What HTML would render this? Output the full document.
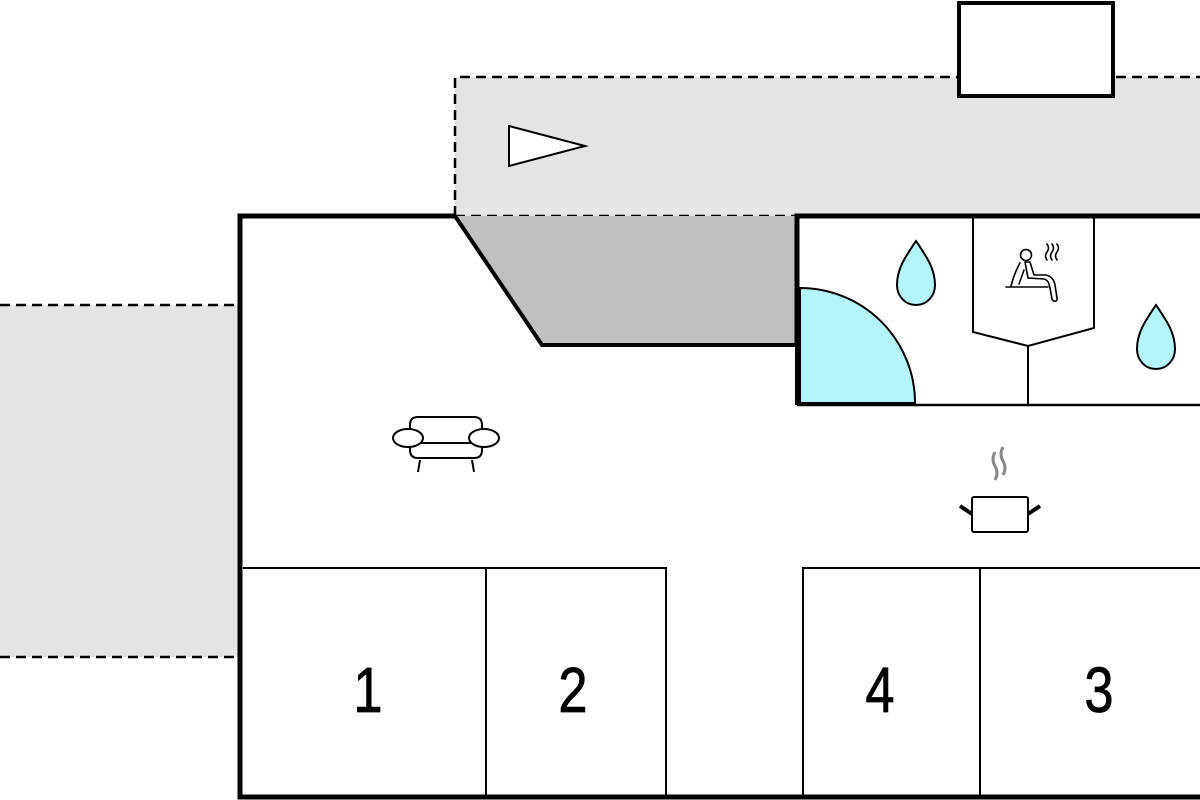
<!DOCTYPE html>
<html><head><meta charset="utf-8"><style>
html,body{margin:0;padding:0;background:#fff;width:1200px;height:800px;overflow:hidden}
svg{display:block}
text{font-family:"Liberation Sans",sans-serif}
</style></head><body>
<svg width="1200" height="800" viewBox="0 0 1200 800" xmlns="http://www.w3.org/2000/svg">
<rect x="0" y="305" width="240" height="352" fill="#e5e5e5"/>
<line x1="0" y1="305" x2="240" y2="305" stroke="#000" stroke-width="2.5" stroke-dasharray="10,6"/>
<line x1="0" y1="657" x2="240" y2="657" stroke="#000" stroke-width="2.5" stroke-dasharray="10,6"/>
<rect x="455" y="77" width="745" height="139" fill="#e5e5e5"/>
<path d="M455,216 L455,77 L1200,77" fill="none" stroke="#000" stroke-width="2.5" stroke-dasharray="10,6"/>
<line x1="455" y1="216" x2="797" y2="216" stroke="#000" stroke-width="2.5" stroke-dasharray="10,6"/>
<rect x="959" y="3" width="154" height="93" fill="#fff" stroke="#000" stroke-width="4"/>
<polygon points="509,126 509,166 585,146" fill="#fff" stroke="#000" stroke-width="2"/>
<polygon points="455,216 797,216 797,345 542,345" fill="#c0c0c0"/>
<polyline points="455,216 542,345 797,345" fill="none" stroke="#000" stroke-width="4"/>
<polyline points="455,216 240,216 240,797 1200,797" fill="none" stroke="#000" stroke-width="5"/>
<path d="M800,403 L800,288 A115,115 0 0 1 915,403 Z" fill="#b3f5fb" stroke="#000" stroke-width="2"/>
<polyline points="797,345 797,216 1200,216" fill="none" stroke="#000" stroke-width="5"/>
<line x1="797" y1="345" x2="797" y2="405" stroke="#000" stroke-width="4"/>
<line x1="797" y1="405" x2="1200" y2="405" stroke="#000" stroke-width="2.5"/>
<polyline points="973,218 973,332 1028,346 1094,328 1094,218" fill="none" stroke="#000" stroke-width="2"/>
<line x1="1028" y1="346" x2="1028" y2="405" stroke="#000" stroke-width="2"/>
<path d="M916,241 C906,256 897,268 897,285 C897,296 905,305 916,305 C927,305 935,296 935,285 C935,268 926,256 916,241 Z" fill="#b3f5fb" stroke="#000" stroke-width="2"/>
<path d="M1156,305 C1146,320 1137,332 1137,349 C1137,360 1145,369 1156,369 C1167,369 1175,360 1175,349 C1175,332 1166,320 1156,305 Z" fill="#b3f5fb" stroke="#000" stroke-width="2"/>
<g fill="none" stroke="#000" stroke-width="1.6" stroke-linejoin="round" stroke-linecap="round">
<circle cx="1026" cy="255" r="5.5"/>
<path d="M1020,263 C1016,270 1013,278 1011,286 M1025,262 L1028,278 L1044,279 C1048,280 1049,283 1050,288 L1052,299 C1053,302 1058,302 1057,298 L1055,285 C1054,279 1050,276 1046,275 L1034,275 L1030,262 Z"/>
<path d="M1024,270 L1019,284"/>
<line x1="1006" y1="287" x2="1048" y2="287"/>
<path d="M1047,244 q3,4 0,8 q-3,4 0,8 M1052,244 q3,4 0,8 q-3,4 0,8 M1057,244 q3,4 0,8 q-3,4 0,8"/>
</g>
<g fill="#fff" stroke="#000" stroke-width="2">
<path d="M410,437 L410,425 Q410,417 418,417 L474,417 Q482,417 482,425 L482,437"/>
<path d="M410,443 L410,450 Q410,458 418,458 L474,458 Q482,458 482,450 L482,443"/>
<line x1="420" y1="460" x2="418" y2="472"/><line x1="472" y1="460" x2="474" y2="472"/>
<line x1="418" y1="443" x2="474" y2="443"/>
<ellipse cx="408" cy="438" rx="15" ry="9"/>
<ellipse cx="484" cy="438" rx="15" ry="9"/>
</g>
<g fill="none">
<path d="M995,452 q-4,7 0,14 q4,7 0,14 M1003,447 q-4,7 0,14 q4,7 0,14" stroke="#888" stroke-width="3"/>
<rect x="972" y="497" width="56" height="35" rx="2" fill="#fff" stroke="#000" stroke-width="2"/>
<line x1="960" y1="506" x2="972" y2="514" stroke="#000" stroke-width="4"/>
<line x1="1028" y1="514" x2="1040" y2="506" stroke="#000" stroke-width="4"/>
</g>
<g stroke="#000" stroke-width="2" fill="none">
<polyline points="243,568 666,568 666,797"/>
<line x1="486" y1="568" x2="486" y2="797"/>
<polyline points="803,797 803,568 1200,568"/>
<line x1="980" y1="568" x2="980" y2="797"/>
</g>
<g font-size="64" text-anchor="middle" fill="#000" stroke="#000" stroke-width="0.8">
<text x="368" y="712" transform="translate(368,0) scale(0.82,1) translate(-368,0)">1</text>
<text x="573" y="712" transform="translate(573,0) scale(0.82,1) translate(-573,0)">2</text>
<text x="880" y="712" transform="translate(880,0) scale(0.82,1) translate(-880,0)">4</text>
<text x="1099" y="712" transform="translate(1099,0) scale(0.82,1) translate(-1099,0)">3</text>
</g>
</svg>
</body></html>
